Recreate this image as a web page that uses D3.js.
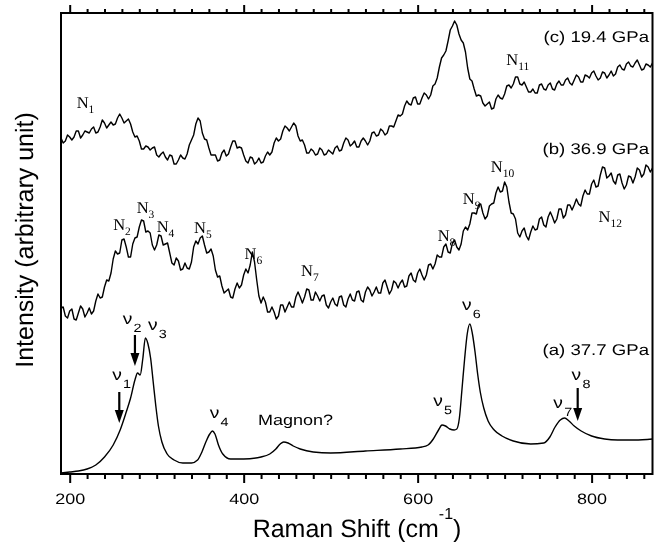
<!DOCTYPE html>
<html>
<head>
<meta charset="utf-8">
<script src="https://cdn.jsdelivr.net/npm/d3@7"></script>
<style>
  body { margin: 0; background: #fff; }
  svg { filter: grayscale(100%); }
  text { font-family: "Liberation Sans", Arial, sans-serif; fill: #000; text-rendering: geometricPrecision; }
  .serif { font-family: "Liberation Serif", "Times New Roman", serif; }
</style>
</head>
<body>
<div class="canvas"></div>
<script>
// sampling grid of the two noisy spectra (cm-1)
const shift = d3.range(190, 870.1, 2.5);

// (c) 19.4 GPa
const spectrumC = [
  336, 331, 333, 339, 337, 334, 337, 343, 343, 336, 339, 343, 342, 341, 345, 347, 341, 342, 347, 354,
  351, 346, 349, 352, 349, 350, 356, 360, 356, 351, 353, 355, 350, 342, 337, 338, 333, 325, 325, 328,
  327, 324, 326, 327, 319, 317, 320, 322, 317, 314, 319, 318, 310, 310, 314, 319, 316, 315, 320, 329,
  334, 339, 350, 356, 353, 341, 335, 334, 326, 319, 319, 319, 313, 314, 321, 324, 318, 320, 327, 333,
  333, 326, 327, 326, 319, 313, 311, 317, 316, 310, 312, 316, 311, 312, 318, 322, 319, 322, 331, 336,
  333, 335, 343, 348, 346, 343, 347, 351, 348, 338, 333, 334, 329, 321, 321, 325, 323, 319, 320, 326,
  324, 319, 320, 324, 322, 320, 326, 328, 323, 324, 331, 336, 334, 328, 330, 333, 327, 327, 333, 336,
  333, 329, 333, 341, 342, 338, 339, 345, 343, 339, 341, 348, 348, 347, 353, 359, 358, 360, 368, 373,
  370, 369, 376, 377, 370, 370, 376, 381, 379, 375, 379, 388, 390, 396, 407, 416, 419, 423, 433, 444,
  448, 453, 449, 440, 434, 431, 422, 406, 395, 393, 385, 378, 379, 378, 371, 368, 370, 372, 365, 366,
  375, 379, 376, 375, 380, 388, 389, 386, 390, 397, 397, 390, 389, 392, 387, 382, 382, 385, 381, 381,
  389, 390, 385, 384, 389, 391, 385, 384, 390, 393, 389, 389, 394, 396, 391, 389, 394, 399, 397, 392,
  392, 399, 398, 396, 401, 403, 398, 394, 396, 402, 401, 396, 399, 403, 398, 400, 407, 409, 405, 404,
  410, 412, 408, 407, 411, 414, 409, 404, 405, 410, 409, 407, 411
];

// (b) 36.9 GPa
const spectrumB = [
  166, 167, 158, 156, 163, 165, 155, 154, 161, 168, 165, 157, 161, 166, 160, 163, 173, 180, 176, 177,
  187, 194, 193, 201, 215, 223, 220, 221, 234, 235, 227, 217, 217, 230, 236, 237, 247, 254, 253, 242,
  243, 241, 229, 224, 229, 239, 238, 229, 230, 231, 221, 211, 209, 216, 213, 204, 205, 211, 206, 205,
  212, 227, 233, 230, 236, 238, 229, 221, 222, 225, 218, 204, 197, 198, 188, 181, 183, 185, 177, 176,
  185, 191, 186, 189, 199, 205, 201, 209, 222, 212, 194, 178, 171, 177, 172, 162, 162, 167, 162, 155,
  158, 169, 169, 162, 167, 172, 167, 167, 177, 182, 177, 171, 177, 185, 184, 174, 174, 182, 178, 173,
  178, 179, 169, 166, 172, 176, 170, 168, 177, 178, 169, 167, 175, 180, 174, 173, 182, 183, 174, 172,
  182, 187, 184, 178, 182, 187, 181, 181, 191, 194, 187, 180, 184, 193, 191, 186, 191, 194, 187, 188,
  198, 201, 194, 192, 201, 205, 199, 194, 199, 209, 210, 205, 210, 219, 217, 217, 227, 230, 222, 221,
  231, 234, 227, 224, 230, 243, 247, 244, 250, 261, 261, 260, 269, 270, 261, 255, 258, 268, 270, 271,
  281, 287, 282, 283, 292, 287, 272, 261, 260, 255, 241, 237, 243, 246, 238, 234, 242, 248, 244, 245,
  255, 257, 249, 247, 257, 262, 257, 251, 255, 265, 265, 256, 259, 269, 269, 264, 269, 275, 270, 268,
  278, 284, 280, 280, 290, 294, 287, 288, 299, 307, 306, 296, 298, 301, 293, 290, 299, 300, 291, 285,
  289, 298, 297, 291, 297, 306, 304, 297, 300, 309, 307, 302, 306
];

// (a) 37.7 GPa, smooth: sampled unevenly so the sharp peaks are kept
const shiftA = [
  190, 200, 210, 220, 230, 240, 250, 258, 265, 270, 275, 278, 281, 284, 287, 290,
  293, 296, 299, 302, 306, 312, 320, 330, 340, 347, 352, 357, 361, 364, 367, 371,
  376, 385, 400, 420, 430, 437, 442, 446, 451, 457, 465, 480, 500, 540, 580, 605,
  612, 618, 624, 628, 632, 637, 642, 645, 648, 651, 654, 657, 660, 663, 666, 669,
  672, 676, 681, 688, 697, 710, 730, 745, 752, 758, 764, 769, 774, 780, 788, 800,
  815, 830, 850, 870
];
const spectrumA = [
  1, 2, 3, 5, 9, 17, 29, 44, 62, 76, 94, 101, 99, 115, 136, 130,
  116, 92, 68, 48, 32, 20, 14, 11, 11, 14, 22, 33, 40, 43, 40, 29,
  20, 15, 15, 17, 20, 25, 30, 32, 31, 28, 25, 22, 21, 23, 25, 27,
  29, 35, 44, 49, 48, 45, 44, 45, 56, 85, 115, 140, 150, 140, 122, 100,
  82, 66, 53, 44, 38, 33, 30, 31, 37, 47, 54, 56, 53, 48, 43, 38,
  35, 34, 34, 35
];

const majorTicks = [200, 400, 600, 800];
const allTicks = d3.range(200, 861, 20);

const pressureLabels = ["(c) 19.4 GPa", "(b) 36.9 GPa", "(a) 37.7 GPa"];
const pressureLevels = [432, 320, 119];

// N modes of (b) and (c): index, shift, level
const nModes = ["1", "2", "3", "4", "5", "6", "7", "8", "9", "10", "11", "12"];
const nShift = [208, 250, 277, 300, 343, 401, 466, 623, 652, 684, 702, 808];
const nLevel = [366, 244, 261, 242, 241, 215, 198, 233, 270, 302, 409, 252];

// nu modes of (a)
const nuModes = ["1", "2", "3", "4", "5", "6", "7", "8"];
const nuShift = [249, 261, 290, 361, 618, 651, 756, 777];
const nuLevel = [94, 150, 144, 56, 68, 164, 66, 94];

const arrowShift = [257, 275, 784];
const arrowFrom = [82, 139, 86];
const arrowTo = [51, 108, 53];

const width = 662;
const height = 542;
const stretch = 1.2;

const svg = d3.select(".canvas")
  .append("svg")
  .attr("width", width)
  .attr("height", height);

const x = d3.scaleLinear().domain([190, 870]).range([61, 652.5]);
const y = d3.scaleLinear().domain([0, 461]).range([474, 13]);

// spectra
const line = d3.line()
  .x((d) => x(d[0]))
  .y((d) => y(d[1]));

svg.append("path")
  .datum(d3.zip(shiftA, spectrumA))
  .attr("d", line.curve(d3.curveMonotoneX))
  .attr("fill", "none")
  .attr("stroke", "#000")
  .attr("stroke-width", 1.4);

[spectrumB, spectrumC].forEach((s) => {
  svg.append("path")
    .datum(d3.zip(shift, s))
    .attr("d", line.curve(d3.curveLinear))
    .attr("fill", "none")
    .attr("stroke", "#000")
    .attr("stroke-width", 1.4)
    .attr("stroke-linejoin", "round");
});

// axes
const bottomAxis = svg.append("g")
  .attr("transform", `translate(0,${y(0)})`)
  .call(d3.axisBottom(x).tickValues(allTicks).tickSize(5).tickSizeOuter(0)
    .tickFormat((d) => (majorTicks.includes(d) ? d : "")));

const topAxis = svg.append("g")
  .attr("transform", `translate(0,${y(461)})`)
  .call(d3.axisTop(x).tickValues(allTicks).tickSize(4).tickSizeOuter(0).tickFormat(""));

[bottomAxis, topAxis].forEach((g) => {
  g.select(".domain").remove();
  g.selectAll(".tick line").attr("stroke-width", 2);
});
bottomAxis.selectAll(".tick line").filter((d) => majorTicks.includes(d)).attr("y2", 9);
topAxis.selectAll(".tick line").filter((d) => majorTicks.includes(d)).attr("y2", -8);
bottomAxis.selectAll(".tick text")
  .attr("y", null)
  .attr("dy", null)
  .attr("font-size", 15)
  .attr("font-family", "Liberation Sans, Arial, sans-serif")
  .attr("transform", `translate(0,30) scale(${stretch},1)`);

svg.append("rect")
  .attr("x", x(190))
  .attr("y", y(461))
  .attr("width", x(870) - x(190))
  .attr("height", y(0) - y(461))
  .attr("fill", "none")
  .attr("stroke", "#000")
  .attr("stroke-width", 2);

// axis titles
const xt = svg.append("text")
  .attr("x", 357)
  .attr("y", 537)
  .attr("text-anchor", "middle")
  .attr("font-size", 25)
  .text("Raman Shift (cm");
xt.append("tspan").attr("font-size", 16).attr("dy", -18).text("-1");
xt.append("tspan").attr("dy", 18).text(")");

svg.append("text")
  .attr("transform", "translate(33,240) rotate(-90)")
  .attr("text-anchor", "middle")
  .attr("font-size", 25)
  .text("Intensity (arbitrary unit)");

// labels
function place(px, py, sx) {
  return svg.append("text")
    .attr("transform", `translate(${px},${py}) scale(${sx},1)`);
}

pressureLabels.forEach((t, i) => {
  place(649, y(pressureLevels[i]), stretch)
    .attr("text-anchor", "end")
    .attr("font-size", 15.5)
    .text(t);
});

nModes.forEach((m, i) => {
  const t = place(x(nShift[i]), y(nLevel[i]), 1)
    .attr("class", "serif")
    .attr("font-size", 16.5)
    .text("N");
  t.append("tspan")
    .attr("font-size", 11.5)
    .attr("dy", 5)
    .text(m);
});

nuModes.forEach((m, i) => {
  const t = place(x(nuShift[i]), y(nuLevel[i]), stretch)
    .attr("font-size", 16)
    .text("\u03bd");
  t.append("tspan")
    .attr("font-size", 12)
    .attr("dy", 8)
    .attr("dx", 1)
    .text(m);
});

place(x(416.5), y(49), stretch)
  .attr("font-size", 15)
  .text("Magnon?");

// arrows
arrowShift.forEach((s, i) => {
  const ax = x(s);
  const y0 = y(arrowFrom[i]);
  const y1 = y(arrowTo[i]);
  svg.append("line")
    .attr("x1", ax).attr("y1", y0)
    .attr("x2", ax).attr("y2", y1 - 10)
    .attr("stroke", "#000")
    .attr("stroke-width", 2.2);
  svg.append("path")
    .attr("d", `M${ax - 4.5},${y1 - 13}L${ax + 4.5},${y1 - 13}L${ax},${y1}Z`)
    .attr("fill", "#000");
});
</script>
</body>
</html>
